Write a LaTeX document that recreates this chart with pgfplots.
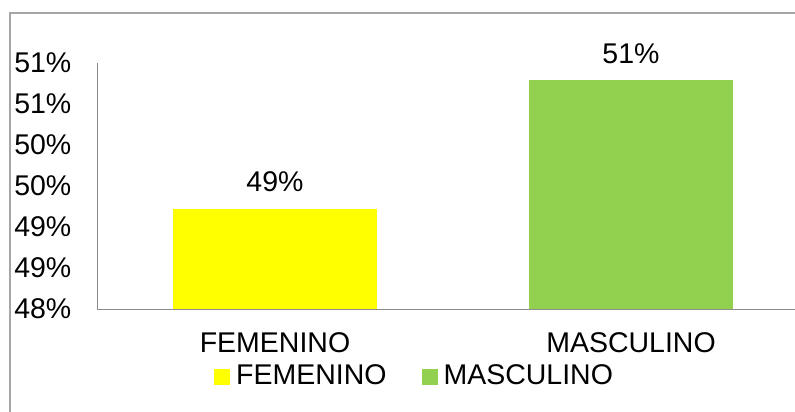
\documentclass[border=0pt]{standalone}
\usepackage{pgfplots}
\pgfplotsset{compat=1.18}
\usepackage{fontspec}
\setmainfont{Liberation Sans}
\definecolor{fem}{HTML}{FFFF00}
\definecolor{mas}{HTML}{92D050}
\definecolor{framec}{HTML}{A6A6A6}
\definecolor{axl}{HTML}{8C8C8C}
\begin{document}
\fontsize{28.5bp}{34bp}\selectfont
\begin{tikzpicture}[x=1bp,y=1bp]
\useasboundingbox (0,0) rectangle (795,411);
\draw[framec, line width=2.5bp] (10,-5) -- (10,398) -- (800,398);
\begin{axis}[
  at={(97bp,102bp)}, anchor=south west,
  scale only axis, width=712bp, height=246bp,
  xmin=-0.5, xmax=1.5, ymin=48, ymax=51,
  axis x line*=bottom, axis y line*=left,
  axis line style={-, axl, line width=1bp},
  major tick length=0pt,
  xtick={0,1}, xticklabels={FEMENINO,MASCULINO},
  ytick={48,48.5,49,49.5,50,50.5,51},
  yticklabels={48\%,49\%,49\%,50\%,50\%,51\%,51\%},
  yticklabel style={anchor=east, xshift=-16bp},
  xticklabel style={anchor=north, yshift=-14bp},
  legend style={at={(0.446,-0.276)}, anchor=center, draw=none, fill=none,
    legend columns=2, inner sep=0pt,
    /tikz/every odd column/.append style={column sep=4bp},
    /tikz/every even column/.append style={column sep=33bp}},
  legend cell align=left,
  legend image code/.code={\fill[#1] (0bp,-8bp) rectangle (16bp,8bp);},
  every node near coord/.append style={anchor=south, yshift=7bp, text=black},
]
\addplot[ybar, bar width=204bp, bar shift=0pt, fill=fem, draw=none,
  nodes near coords={49\%}] coordinates {(0,49.22)};
\addlegendentry{FEMENINO}
\addplot[ybar, bar width=204bp, bar shift=0pt, fill=mas, draw=none,
  nodes near coords={51\%}] coordinates {(1,50.79)};
\addlegendentry{MASCULINO}
\end{axis}
\end{tikzpicture}
\end{document}
